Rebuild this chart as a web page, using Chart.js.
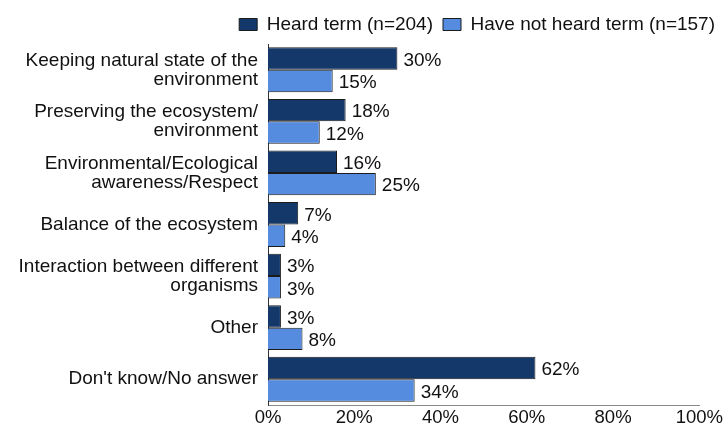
<!DOCTYPE html>
<html>
<head>
<meta charset="utf-8">
<script src="https://cdn.jsdelivr.net/npm/chart.js@4/dist/chart.umd.min.js"></script>
<style>
  html, body { margin: 0; padding: 0; background: #fff; }
  #wrap { width: 725px; height: 434px; position: relative; }
</style>
</head>
<body>
<div id="wrap"><canvas id="termChart"></canvas></div>
<script>
const categories = [
  ['Keeping natural state of the', 'environment'],
  ['Preserving the ecosystem/', 'environment'],
  ['Environmental/Ecological', 'awareness/Respect'],
  'Balance of the ecosystem',
  ['Interaction between different', 'organisms'],
  'Other',
  "Don't know/No answer",
];
const heardTerm = [30, 18, 16, 7, 3, 3, 62];
const notHeardTerm = [15, 12, 25, 4, 3, 8, 34];
const xTicks = [0, 20, 40, 60, 80, 100];

const fontFamily = '"Liberation Sans", Arial, Helvetica, sans-serif';

// draws "30%" etc. just past the end of each bar
const valueLabels = {
  id: 'valueLabels',
  afterDatasetsDraw(chart) {
    const ctx = chart.ctx;
    ctx.save();
    ctx.font = '19px ' + fontFamily;
    ctx.fillStyle = '#111';
    ctx.textAlign = 'left';
    ctx.textBaseline = 'middle';
    chart.data.datasets.forEach((ds, i) => {
      const meta = chart.getDatasetMeta(i);
      meta.data.forEach((bar, j) => {
        ctx.fillText(ds.data[j] + '%', bar.x + 6, bar.y + 2);
      });
    });
    ctx.restore();
  },
};

const ctx = document.getElementById('termChart').getContext('2d');
const termChart = new Chart(ctx, {
  type: 'bar',
  data: {
    labels: categories,
    datasets: [
      {
        label: 'Heard term (n=204)',
        data: heardTerm,
        backgroundColor: '#14386a',
        borderColor: '#1b1b1b',
        borderWidth: 1,
        categoryPercentage: 0.87,
        barPercentage: 1,
      },
      {
        label: 'Have not heard term (n=157)',
        data: notHeardTerm,
        backgroundColor: '#558ce0',
        borderColor: '#1b1b1b',
        borderWidth: 1,
        categoryPercentage: 0.87,
        barPercentage: 1,
      },
    ],
  },
  options: {
    indexAxis: 'y',
    responsive: true,
    maintainAspectRatio: false,
    animation: false,
    layout: {
      padding: { left: 0, right: 0, top: 5, bottom: 0 },
    },
    plugins: {
      tooltip: { enabled: false },
      legend: {
        display: true,
        position: 'top',
        align: 'end',
        labels: {
          color: '#111',
          boxWidth: 18,
          boxHeight: 12,
          padding: 10,
          font: { family: fontFamily, size: 19 },
        },
      },
    },
    scales: {
      x: {
        min: 0,
        max: 100,
        afterBuildTicks(scale) {
          scale.ticks = xTicks.map(v => ({ value: v }));
        },
        grid: { display: false, drawTicks: false },
        border: { display: true, color: '#8a8a8a', width: 1 },
        ticks: {
          color: '#111',
          padding: 2,
          maxRotation: 0,
          font: { family: fontFamily, size: 18.5 },
          callback: v => v + '%',
        },
      },
      y: {
        afterFit(scale) {
          scale.width = 268;
        },
        grid: { display: false, drawTicks: false },
        border: { display: true, color: '#333', width: 1 },
        ticks: {
          color: '#111',
          padding: 10,
          font: { family: fontFamily, size: 19, lineHeight: 1.0 },
        },
      },
    },
  },
  plugins: [valueLabels],
});
</script>
</body>
</html>
